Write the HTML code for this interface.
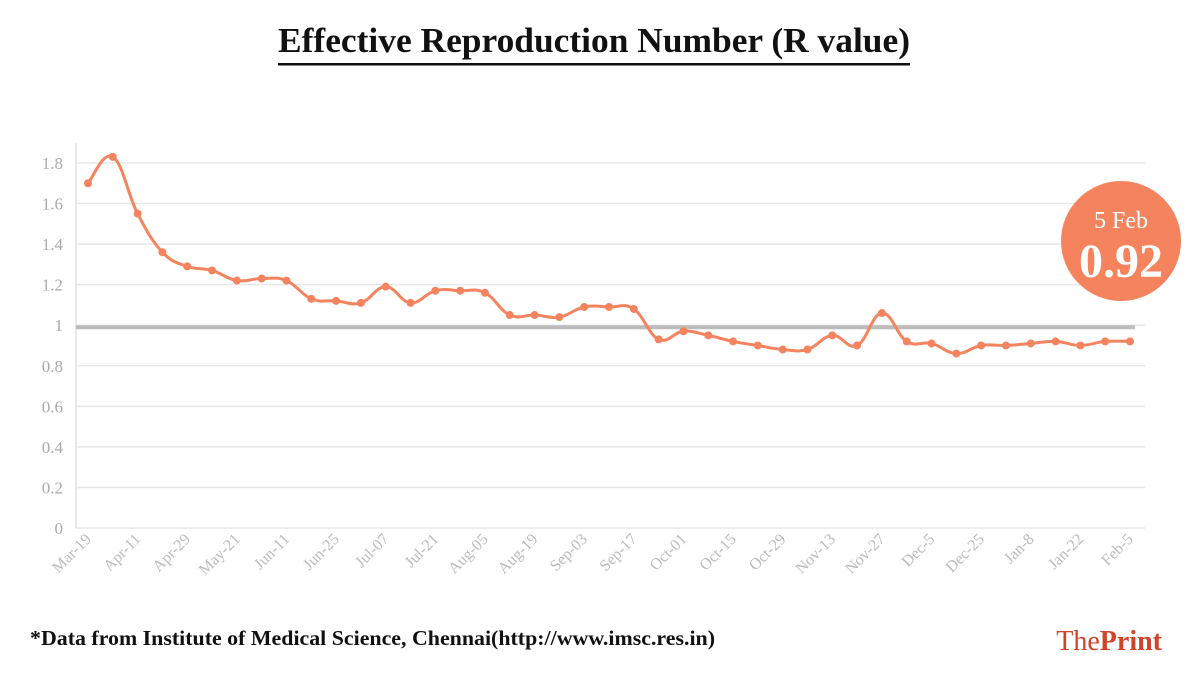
<!DOCTYPE html>
<html><head><meta charset="utf-8"><style>
body{margin:0;width:1200px;height:675px;background:#fff;overflow:hidden}
svg{display:block}
</style></head><body>
<svg id="s" width="1200" height="675" xmlns="http://www.w3.org/2000/svg" font-family="Liberation Serif, serif">
<text x="278" y="52" textLength="632" lengthAdjust="spacingAndGlyphs" font-size="35" font-weight="bold" fill="#111">Effective Reproduction Number (R value)</text>
<rect x="278" y="63" width="632" height="2.5" fill="#111"/>
<g id="grid"></g>
<path id="ln" fill="none" stroke="#f4845f" stroke-width="3" stroke-linejoin="round"/>
<g id="pts" fill="#f4845f"></g>
<circle cx="1121" cy="241" r="60" fill="#f5845e"/>
<text x="1121" y="228" text-anchor="middle" font-size="24" fill="#fff">5 Feb</text>
<text x="1121" y="277" text-anchor="middle" font-size="48" font-weight="bold" fill="#fff">0.92</text>
<text x="30" y="645" textLength="685" lengthAdjust="spacingAndGlyphs" font-size="21" font-weight="bold" fill="#111">*Data from Institute of Medical Science, Chennai(http://www.imsc.res.in)</text>
<text x="1162" y="650" text-anchor="end" font-size="28" fill="#d2442a"><tspan>The</tspan><tspan font-weight="bold">Print</tspan></text>
</svg>
<script>
var ns="http://www.w3.org/2000/svg",g=document.getElementById('grid');
function el(t,a,p,txt){var e=document.createElementNS(ns,t);for(var k in a)e.setAttribute(k,a[k]);if(txt)e.textContent=txt;(p||g).appendChild(e);return e;}
function Y(v){return 528-v*202.8;}
for(var i=0;i<=9;i++){var v=i*0.2,y=Y(v);
 el('line',{x1:76,x2:1145,y1:y,y2:y,stroke:'#e8e8e8','stroke-width':1.5});
 var lab=(Math.round(v*10)/10).toString();
 el('text',{x:63,y:y+6,'text-anchor':'end','font-size':17,fill:'#aaa'},g,lab);}
el('line',{x1:76,x2:76,y1:143,y2:528,stroke:'#e3e3e3','stroke-width':1.5});
el('line',{x1:76,x2:1135,y1:Y(0.99),y2:Y(0.99),stroke:'#bcbcbc','stroke-width':4});
var d=[1.70,1.83,1.55,1.36,1.29,1.27,1.22,1.23,1.22,1.13,1.12,1.11,1.19,1.11,1.17,1.17,1.16,1.05,1.05,1.04,1.09,1.09,1.08,0.93,0.97,0.95,0.92,0.90,0.88,0.88,0.95,0.90,1.06,0.92,0.91,0.86,0.90,0.90,0.91,0.92,0.90,0.92,0.92];
var labs=["Mar-19","Apr-11","Apr-29","May-21","Jun-11","Jun-25","Jul-07","Jul-21","Aug-05","Aug-19","Sep-03","Sep-17","Oct-01","Oct-15","Oct-29","Nov-13","Nov-27","Dec-5","Dec-25","Jan-8","Jan-22","Feb-5"];
var P=d.map(function(v,i){return [88+i*(1042/42),Y(v)];});
var s="M"+P[0][0]+","+P[0][1];
for(var i=0;i<P.length-1;i++){var p0=P[i-1]||P[i],p1=P[i],p2=P[i+1],p3=P[i+2]||P[i+1],t=0.2;
 s+=" C"+(p1[0]+(p2[0]-p0[0])*t)+","+(p1[1]+(p2[1]-p0[1])*t)+" "+(p2[0]-(p3[0]-p1[0])*t)+","+(p2[1]-(p3[1]-p1[1])*t)+" "+p2[0]+","+p2[1];}
document.getElementById('ln').setAttribute('d',s);
var pg=document.getElementById('pts');
P.forEach(function(p){el('circle',{cx:p[0],cy:p[1],r:4},pg);});
labs.forEach(function(l,i){var x=88+i*2*(1042/42)+4,y=540;
 el('text',{x:x,y:y,'text-anchor':'end','font-size':16,fill:'#bbb',transform:'rotate(-45 '+x+' '+y+')'},g,l);});
</script>
</body></html>
